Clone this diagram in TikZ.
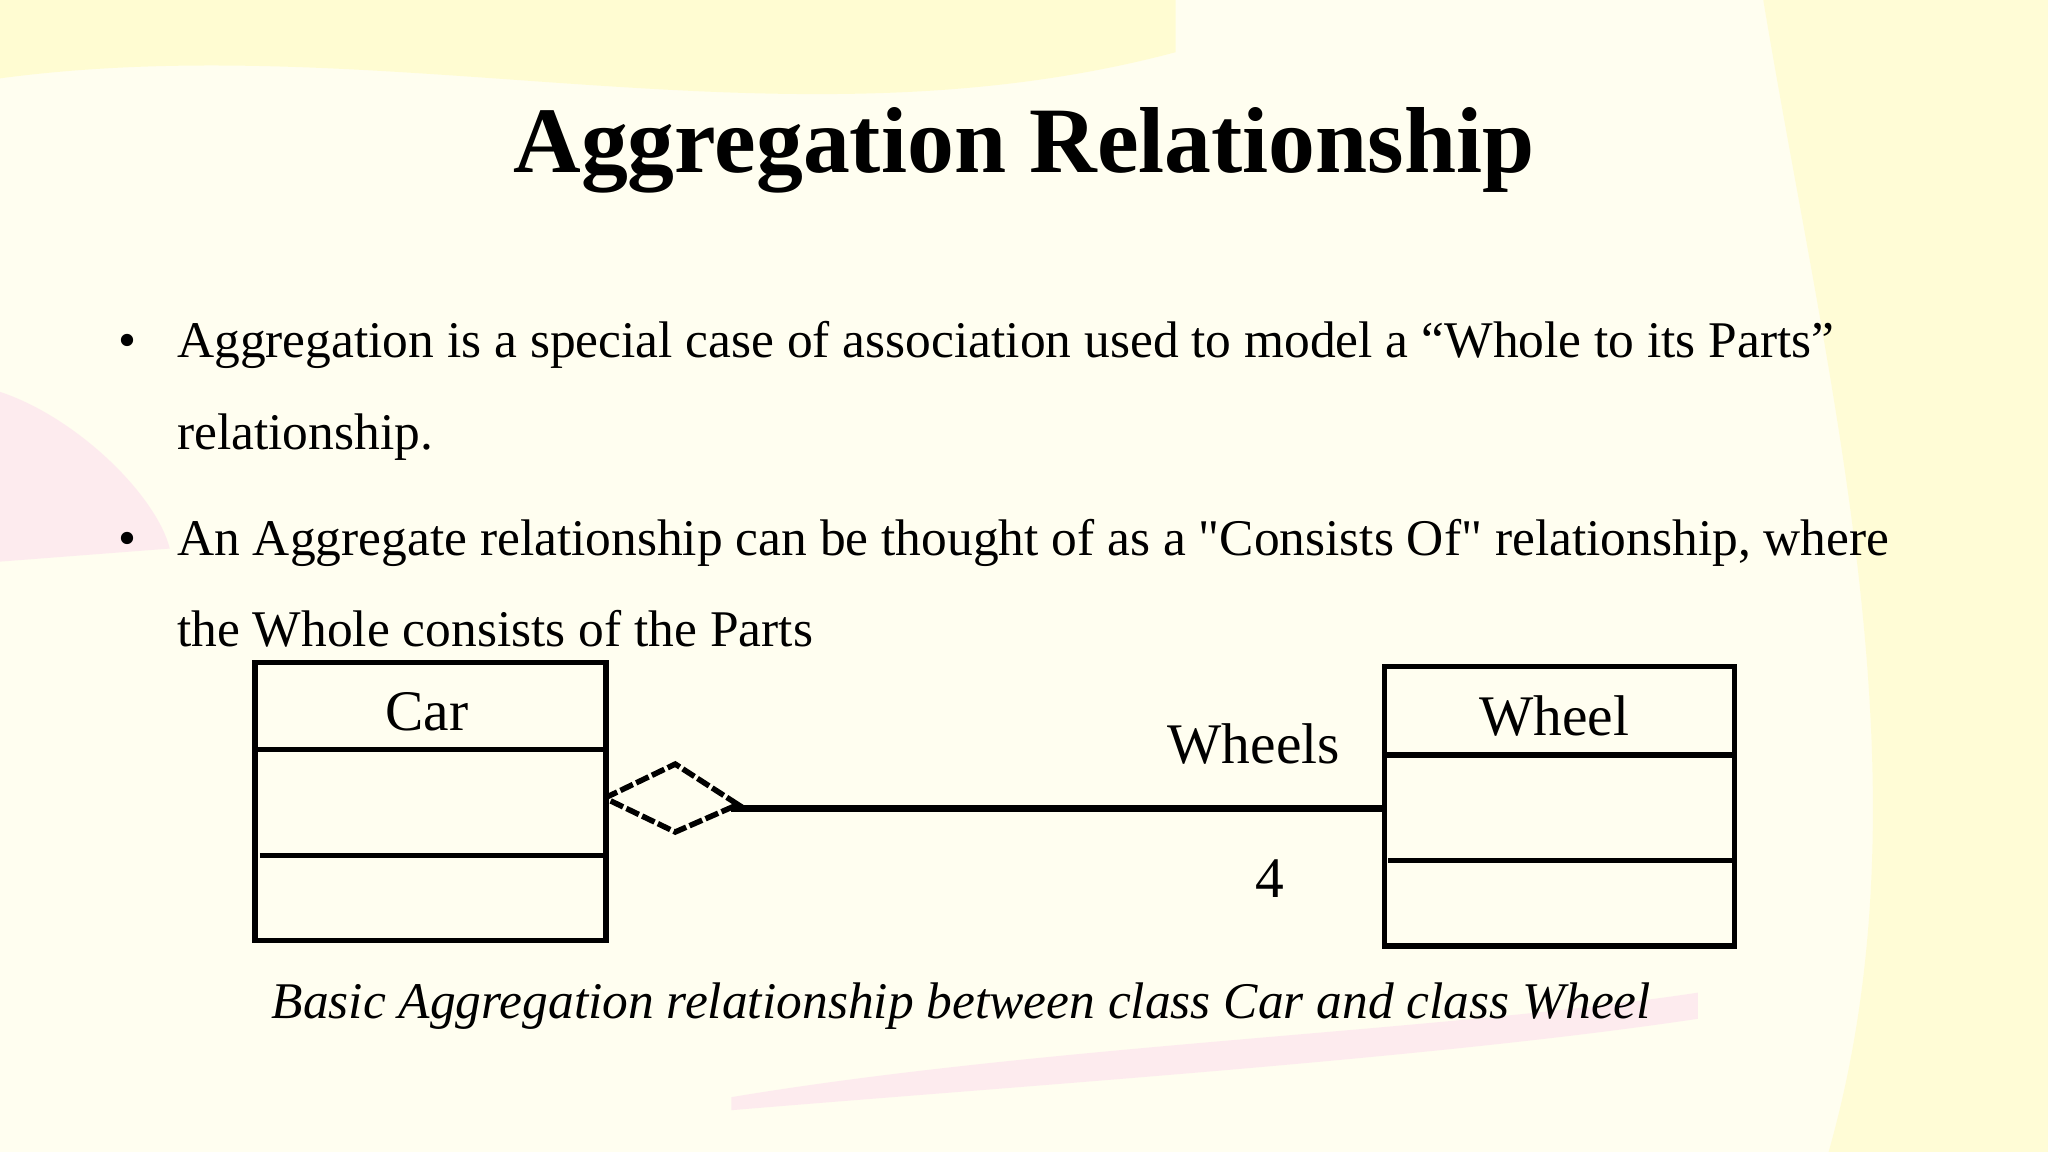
\documentclass[tikz,border=0pt]{standalone}
\usepackage{fontspec}
\setmainfont{Liberation Serif}
\newfontfamily\plainq{Liberation Serif}
\begin{document}
\begin{tikzpicture}[x=0.01cm,y=-0.01cm,
  cls/.style={draw,line width=1.2pt,inner sep=0pt,anchor=north west},
  sep/.style={line width=1.2pt},
  body/.style={anchor=base west,font=\fontsize{11.2pt}{13pt}\selectfont,inner sep=0pt},
  lbl/.style={font=\fontsize{12.5pt}{14pt}\selectfont,inner sep=0pt}]
\fill[yellow!6] (0,0) rectangle (1568,882);
\useasboundingbox (0,0) rectangle (1568,882);
\fill[yellow!25,opacity=0.6] (0,60) .. controls (300,20) and (600,120) .. (900,40) -- (900,0) -- (0,0) -- cycle;
\fill[magenta!15,opacity=0.5] (0,300) .. controls (60,320) and (120,380) .. (130,420) -- (0,430) -- cycle;
\fill[magenta!15,opacity=0.5] (560,840) .. controls (800,800) and (1100,790) .. (1300,760) -- (1300,780) .. controls (1100,810) and (800,830) .. (560,850) -- cycle;
\fill[yellow!20,opacity=0.7] (1350,0) -- (1568,0) -- (1568,882) -- (1400,882) .. controls (1480,600) and (1400,300) .. (1350,0);
\node[inner sep=0pt,font=\bfseries\fontsize{20.4pt}{24pt}\selectfont] (title) at (784,115) {Aggregation Relationship};
\node[body] (b1) at (90,274) {•};
\node[body] (t1) at (135,274) {Aggregation is a special case of association used to model a “Whole to its Parts”};
\node[body] (t1b) at (135,344) {relationship.};
\node[body] (b2) at (90,425) {•};
\node[body] (t2) at (135,425) {\plainq An Aggregate relationship can be thought of as a "Consists Of" relationship, where};
\node[body] (t2b) at (135,495) {the Whole consists of the Parts};
% Car
\node[cls,minimum width=269*0.01cm,minimum height=213*0.01cm] (car) at (193,505) {};
\draw[sep] (193,574) -- (462,574);
\draw[sep] (199,655) -- (466,655);
\node[lbl] (carl) at (327,545) {Car};
% Wheel
\node[cls,minimum width=268*0.01cm,minimum height=214*0.01cm] (wheel) at (1058,508) {};
\draw[sep] (1058,578) -- (1326,578);
\draw[sep] (1063,659) -- (1330,659);
\node[lbl] (wheell) at (1190,548) {Wheel};
% aggregation
\coordinate (d1) at (463,611);
\coordinate (d2) at (517,585);
\coordinate (d3) at (565,616);
\coordinate (d4) at (517,637);
\draw[line width=1.2pt,dash pattern=on 3pt off 0.8pt] (d1) -- (d2) -- (d3) -- (d4) -- cycle;
\coordinate (ls) at (560,619);
\draw[line width=1.4pt] (ls) -- (wheel.west |- ls);
\node[lbl] (role) at (960,570) {Wheels};
\node[lbl] (mult) at (972,673) {4};
\node[inner sep=0pt,font=\itshape\fontsize{11.2pt}{13pt}\selectfont] (cap) at (736,770) {Basic Aggregation relationship between class Car and class Wheel};
\end{tikzpicture}
\end{document}
